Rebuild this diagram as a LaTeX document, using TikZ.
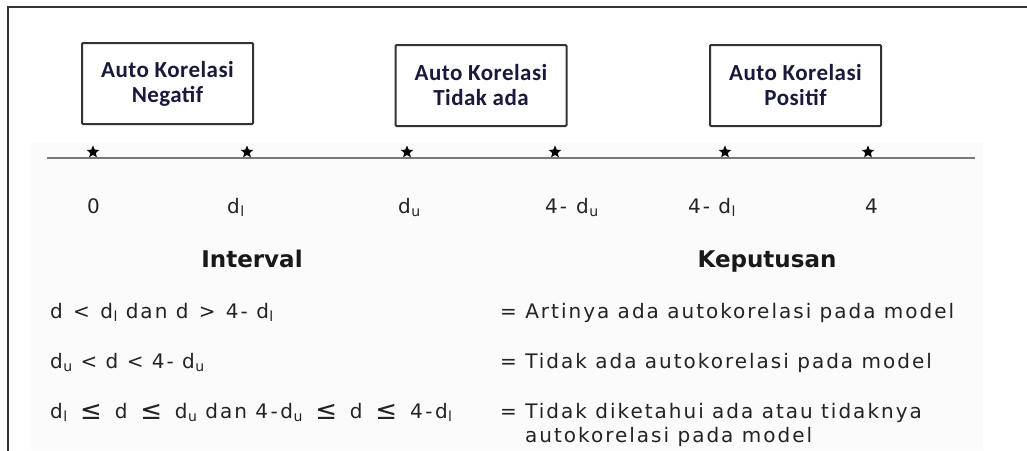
\documentclass[tikz,border=0pt]{standalone}
\usepackage{fontspec}
\setmainfont{DejaVu Sans}
\newfontfamily\boxfont{Carlito}[LetterSpace=2]
\newfontfamily\rowfont{DejaVu Sans}[LetterSpace=10]
\usetikzlibrary{shapes.geometric}
\definecolor{boxtext}{RGB}{25,25,60}
\definecolor{txt}{RGB}{35,35,35}
\definecolor{bgpanel}{RGB}{251,251,251}
\definecolor{axis}{RGB}{120,120,120}
\newcommand\lowidx[1]{\kern0.5pt\raisebox{-3.5pt}{\fontsize{14}{14}\selectfont #1}}
\newcommand\bigleq{\kern4.5pt\raisebox{-1.5pt}{\fontsize{26}{24}\selectfont ≤}\kern4.5pt}
\newcommand\fourminus{4\kern2.5pt-\kern2.5pt}
\tikzset{
  kbox/.style={draw=black!80, line width=2pt, rounded corners=1pt, minimum width=171pt, minimum height=81pt, inner sep=0pt, align=center, font=\boxfont\bfseries\fontsize{23}{25}\selectfont, text=boxtext},
  starmark/.style={star, star points=5, star point ratio=2.2, fill=black, draw=none, minimum size=13pt, inner sep=0pt},
  lab/.style={anchor=base west, inner sep=0pt, font=\rowfont\fontsize{20}{24}\selectfont, text=txt},
  rowtext/.style={anchor=base west, inner sep=0pt, font=\rowfont\fontsize{20}{24}\selectfont, text=txt},
  head/.style={anchor=base, inner sep=0pt, font=\bfseries\fontsize{23}{27}\selectfont, text=black!90},
  frameline/.style={line width=2pt, draw=black!80},
  axisline/.style={line width=2pt, draw=axis}
}
\begin{document}
\begin{tikzpicture}[x=1pt, y=-1pt]
\useasboundingbox (0,0) rectangle (1027,450);
% faint panel
\fill[bgpanel] (30,143) rectangle (983,450);
% frame
\draw[frameline] (8,451) -- (8,7) -- (1028,7);
% boxes
\node[kbox] (neg) at (167.5,83.5) {Auto Korelasi\\Negatif};
\node[kbox] (none) at (481,85.5) {Auto Korelasi\\Tidak ada};
\node[kbox] (pos) at (795.5,85.5) {Auto Korelasi\\Positif};
% axis
\coordinate (L) at (47,158);
\coordinate (R) at (975,158);
\draw[axisline] (L) -- (R);
% stars
\node[starmark] (s1) at (93,152) {};
\node[starmark] (s2) at (247,152) {};
\node[starmark] (s3) at (407,152) {};
\node[starmark] (s4) at (555,152) {};
\node[starmark] (s5) at (725,152) {};
\node[starmark] (s6) at (868,152) {};
% labels
\node[lab] (l1) at (87,213) {0};
\node[lab] (l2) at (227,213) {d\lowidx{l}};
\node[lab] (l3) at (398,213) {d\lowidx{u}};
\node[lab] (l4) at (545,213) {4-\hspace{0.45em}d\lowidx{u}};
\node[lab] (l5) at (688,213) {4- d\lowidx{l}};
\node[lab] (l6) at (865,213) {4};
% headers
\node[head] (hint) at (252,267) {Interval};
\node[head] (hkep) at (767,267) {Keputusan};
% rows left
\node[rowtext] (r1) at (50,318) {d\kern2pt{} <\kern2pt{} d\lowidx{l} dan d\kern2pt{} >\kern2pt{} 4- d\lowidx{l}};
\node[rowtext] (r2) at (50,368) {d\lowidx{u} < d < 4- d\lowidx{u}};
\node[rowtext] (r3) at (50,418) {d\lowidx{l} \bigleq{} d \bigleq{} d\lowidx{u} dan \fourminus d\lowidx{u} \bigleq{} d \bigleq{} \fourminus d\lowidx{l}};
% rows right
\node[rowtext] (k1) at (500,318) {= Artinya ada autokorelasi pada model};
\node[rowtext] (k2) at (500,368) {= Tidak ada autokorelasi pada model};
\node[rowtext] (k3) at (500,418) {= Tidak diketahui ada atau tidaknya};
\node[rowtext] (k4) at (525,442) {autokorelasi pada model};
\end{tikzpicture}
\end{document}
